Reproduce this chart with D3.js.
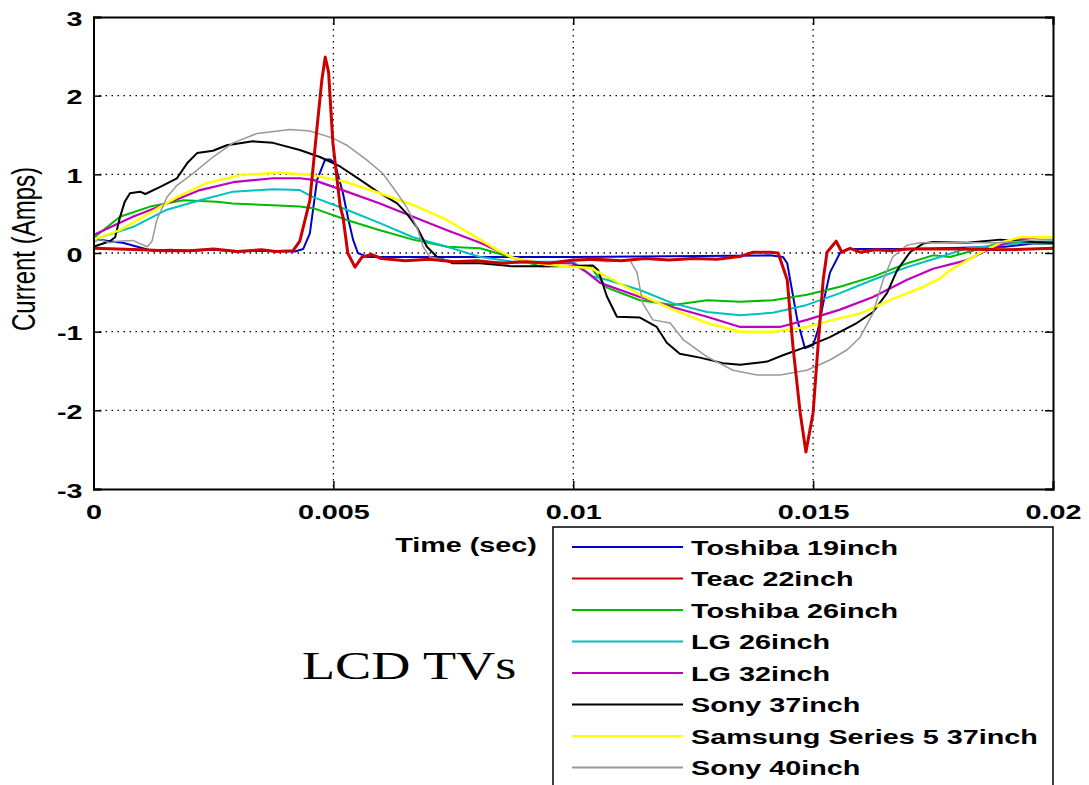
<!DOCTYPE html>
<html lang="en">
<head>
	<meta charset="UTF-8">
	<title>LCD TVs current</title>
	<script src="https://d3js.org/d3.v7.min.js"></script>
	<style>
		body { margin: 0; background: #fff; }
		text { font-family: "Liberation Sans", Arial, sans-serif; }
	</style>
</head>
<body>
<script>
	//----data: [time (sec), current (Amps)]----
	var toshiba19 = [[0,0.18],[0.00034,0.15],[0.00061,0.13],[0.00097,0.07],[0.00122,0.03],[0.0016,0.04],[0.002,0.03],[0.0025,0.04],[0.003,0.02],[0.0035,0.03],[0.0042,0.02],[0.00437,0.05],[0.00451,0.25],[0.00466,0.93],[0.00483,1.19],[0.00493,1.19],[0.00503,1.14],[0.0052,0.76],[0.0053,0.46],[0.00541,0.17],[0.00551,0.0],[0.0057,-0.05],[0.008,-0.05],[0.01,-0.05],[0.012,-0.04],[0.0141,-0.03],[0.01437,-0.05],[0.01446,-0.13],[0.01467,-0.85],[0.01483,-1.21],[0.015,-1.17],[0.0151,-0.98],[0.01521,-0.64],[0.01535,-0.25],[0.01556,0.0],[0.01571,0.05],[0.017,0.05],[0.019,0.08],[0.01958,0.12],[0.02,0.12]];
	var teac22 = [[0,0.06],[0.0005,0.05],[0.001,0.04],[0.0015,0.03],[0.002,0.03],[0.0025,0.05],[0.003,0.02],[0.0035,0.04],[0.0038,0.02],[0.00416,0.03],[0.0043,0.15],[0.00451,0.67],[0.00466,1.6],[0.00476,2.2],[0.00483,2.49],[0.0049,2.3],[0.00499,1.4],[0.00514,0.6],[0.0052,0.46],[0.0053,0.0],[0.00545,-0.18],[0.0056,-0.05],[0.0058,-0.02],[0.006,-0.07],[0.0065,-0.1],[0.007,-0.08],[0.0075,-0.11],[0.008,-0.1],[0.0085,-0.13],[0.009,-0.11],[0.0095,-0.13],[0.01,-0.09],[0.0105,-0.08],[0.011,-0.1],[0.0115,-0.07],[0.012,-0.09],[0.0125,-0.07],[0.013,-0.08],[0.0135,-0.04],[0.01375,0.01],[0.0141,0.01],[0.01427,0.0],[0.01446,-0.34],[0.01458,-1.19],[0.01473,-2.03],[0.01485,-2.53],[0.015,-2.03],[0.0151,-1.2],[0.01521,-0.34],[0.01529,0.01],[0.01548,0.15],[0.0156,0.01],[0.01577,0.06],[0.01598,0.01],[0.0163,0.04],[0.0166,0.03],[0.017,0.05],[0.018,0.05],[0.019,0.04],[0.02,0.06]];
	var toshiba26 = [[0,0.19],[0.00055,0.46],[0.00118,0.59],[0.00187,0.67],[0.00257,0.65],[0.0029,0.63],[0.00362,0.61],[0.0043,0.59],[0.00458,0.57],[0.00528,0.42],[0.00597,0.29],[0.00666,0.17],[0.00737,0.08],[0.00806,0.06],[0.00874,-0.06],[0.00931,-0.17],[0.01035,-0.17],[0.0107,-0.44],[0.01139,-0.6],[0.01208,-0.66],[0.01279,-0.6],[0.01348,-0.62],[0.01416,-0.6],[0.01487,-0.53],[0.01556,-0.43],[0.01625,-0.3],[0.01696,-0.13],[0.0175,-0.03],[0.01785,-0.05],[0.01821,0.01],[0.0189,0.13],[0.02,0.12]];
	var lg26 = [[0,0.17],[0.00082,0.33],[0.00153,0.55],[0.00222,0.67],[0.00291,0.78],[0.00374,0.81],[0.0043,0.8],[0.00458,0.71],[0.00528,0.55],[0.00597,0.38],[0.00666,0.2],[0.00737,0.08],[0.00806,-0.05],[0.00874,-0.11],[0.00999,-0.11],[0.01041,-0.3],[0.0107,-0.34],[0.01139,-0.47],[0.01208,-0.64],[0.01279,-0.75],[0.01348,-0.79],[0.01416,-0.76],[0.01487,-0.66],[0.01556,-0.51],[0.01625,-0.34],[0.01696,-0.18],[0.01765,-0.05],[0.01821,0.06],[0.01958,0.14],[0.02,0.15]];
	var lg32 = [[0,0.23],[0.00082,0.46],[0.00153,0.63],[0.00222,0.8],[0.00291,0.9],[0.00374,0.95],[0.0043,0.95],[0.00458,0.93],[0.00528,0.78],[0.00597,0.63],[0.00666,0.46],[0.00737,0.29],[0.00806,0.13],[0.00874,-0.06],[0.00931,-0.13],[0.00999,-0.13],[0.01029,-0.25],[0.01056,-0.38],[0.01139,-0.56],[0.01208,-0.69],[0.01279,-0.81],[0.01348,-0.94],[0.01431,-0.94],[0.01487,-0.85],[0.01556,-0.72],[0.01625,-0.56],[0.01696,-0.34],[0.0175,-0.2],[0.01821,-0.09],[0.01854,0.01],[0.0189,0.1],[0.01925,0.17],[0.01973,0.2],[0.02,0.2]];
	var sony37 = [[0,0.08],[0.00034,0.15],[0.00045,0.2],[0.00055,0.45],[0.00065,0.65],[0.00076,0.76],[0.00097,0.78],[0.00108,0.75],[0.00139,0.84],[0.00174,0.95],[0.00195,1.14],[0.00216,1.27],[0.00249,1.3],[0.00278,1.37],[0.00332,1.42],[0.00374,1.4],[0.0043,1.31],[0.00472,1.22],[0.00514,1.1],[0.00556,0.93],[0.00597,0.76],[0.00633,0.63],[0.00653,0.5],[0.00674,0.33],[0.00695,0.08],[0.00716,-0.05],[0.00749,-0.13],[0.00806,-0.13],[0.00874,-0.17],[0.00945,-0.17],[0.01041,-0.16],[0.01052,-0.22],[0.0107,-0.55],[0.01091,-0.81],[0.01139,-0.82],[0.01174,-0.94],[0.01195,-1.14],[0.01222,-1.28],[0.01264,-1.33],[0.01312,-1.4],[0.01348,-1.42],[0.01404,-1.38],[0.01437,-1.3],[0.01487,-1.19],[0.01535,-1.07],[0.01591,-0.89],[0.01625,-0.75],[0.01654,-0.51],[0.01675,-0.22],[0.01702,0.01],[0.01729,0.12],[0.0175,0.14],[0.01821,0.13],[0.0189,0.17],[0.01958,0.14],[0.02,0.13]];
	var samsung37 = [[0,0.17],[0.00055,0.29],[0.00118,0.51],[0.00174,0.71],[0.00237,0.89],[0.00305,0.99],[0.00389,1.02],[0.00458,0.99],[0.00528,0.9],[0.00597,0.76],[0.00666,0.61],[0.00737,0.42],[0.00806,0.17],[0.00841,0.04],[0.00874,-0.06],[0.00945,-0.15],[0.01035,-0.19],[0.01083,-0.34],[0.01139,-0.53],[0.01208,-0.72],[0.01279,-0.89],[0.01348,-1.0],[0.01416,-1.0],[0.01487,-0.94],[0.01542,-0.85],[0.01598,-0.77],[0.0166,-0.6],[0.01729,-0.43],[0.01765,-0.32],[0.01785,-0.22],[0.01848,0.0],[0.0189,0.13],[0.01931,0.2],[0.02,0.2]];
	var sony40 = [[0,0.14],[0.00014,0.17],[0.00034,0.13],[0.0005,0.15],[0.00082,0.16],[0.00112,0.08],[0.00122,0.15],[0.00132,0.42],[0.00153,0.71],[0.00174,0.86],[0.00207,1.01],[0.00249,1.22],[0.00291,1.4],[0.00341,1.52],[0.0041,1.57],[0.00451,1.55],[0.00499,1.46],[0.00528,1.37],[0.0057,1.18],[0.00603,1.01],[0.00633,0.76],[0.00653,0.58],[0.00674,0.33],[0.00687,0.08],[0.00701,-0.05],[0.00749,-0.1],[0.00874,-0.12],[0.00931,-0.13],[0.01035,-0.09],[0.0107,-0.11],[0.01118,-0.09],[0.01133,-0.25],[0.01145,-0.64],[0.01166,-0.85],[0.01202,-0.89],[0.01229,-1.1],[0.01279,-1.32],[0.01333,-1.49],[0.01383,-1.55],[0.01431,-1.55],[0.01487,-1.49],[0.01535,-1.36],[0.01571,-1.23],[0.01598,-1.07],[0.01625,-0.76],[0.01646,-0.34],[0.01666,-0.05],[0.01696,0.1],[0.01723,0.13],[0.0189,0.13],[0.01973,0.17],[0.02,0.17]];

	var seriesNames = ['Toshiba 19inch', 'Teac 22inch', 'Toshiba 26inch', 'LG 26inch', 'LG 32inch', 'Sony 37inch', 'Samsung Series 5 37inch', 'Sony 40inch'];
	var seriesData = [toshiba19, teac22, toshiba26, lg26, lg32, sony37, samsung37, sony40];
	var seriesColors = ['#0000cc', '#cc0000', '#00bb00', '#00c0c0', '#c000c0', '#000000', '#ffff00', '#999999'];
	var seriesWidths = [2, 3, 2, 2, 2.2, 2, 2.5, 1.5];

	var xTicks = [0, 0.005, 0.01, 0.015, 0.02];
	var xTickLabels = ['0', '0.005', '0.01', '0.015', '0.02'];
	var yTicks = [-3, -2, -1, 0, 1, 2, 3];
	var yTickLabels = ['-3', '-2', '-1', '0', '1', '2', '3'];

	var SX = 1.37; // the picture is stretched sideways

	var margin = {top: 17, left: 93.5, right: 36, bottom: 296};
	var W = 1089, H = 785;
	var width = W - margin.left - margin.right,
		height = H - margin.top - margin.bottom;

	var root = d3.select('body').append('svg')
		.attr('width', W)
		.attr('height', H);

	var svg = root.append('g')
		.attr('transform', 'translate(' + margin.left + ',' + margin.top + ')');

	var x = d3.scaleLinear().domain([0, 0.02]).range([0, width]);
	var y = d3.scaleLinear().domain([-3, 3]).range([height, 0]);

	//----grid----
	svg.append('g').selectAll('line.gx')
		.data(xTicks.slice(1, -1)).enter().append('line')
		.attr('x1', function (d) { return x(d); })
		.attr('x2', function (d) { return x(d); })
		.attr('y1', 0).attr('y2', height)
		.attr('stroke', '#000').attr('stroke-width', 1.3)
		.attr('stroke-dasharray', '1.5,4.5');
	svg.append('g').selectAll('line.gy')
		.data(yTicks.slice(1, -1)).enter().append('line')
		.attr('y1', function (d) { return y(d); })
		.attr('y2', function (d) { return y(d); })
		.attr('x1', 0).attr('x2', width)
		.attr('stroke', '#000').attr('stroke-width', 1.3)
		.attr('stroke-dasharray', '1.5,4.5');

	//----lines----
	var line = d3.line()
		.x(function (d) { return x(d[0]); })
		.y(function (d) { return y(d[1]); });

	var order = [0, 2, 3, 4, 5, 6, 7, 1];
	order.forEach(function (i) {
		svg.append('path')
			.datum(seriesData[i])
			.attr('fill', 'none')
			.attr('stroke', seriesColors[i])
			.attr('stroke-width', seriesWidths[i])
			.attr('stroke-linejoin', 'round')
			.attr('d', line);
	});

	//----axes----
	var xAxis = svg.append('g')
		.attr('transform', 'translate(0,' + height + ')')
		.call(d3.axisBottom(x).tickValues(xTicks).tickSize(-8).tickPadding(0)
			.tickFormat(function (d, i) { return xTickLabels[i]; }));
	xAxis.selectAll('text')
		.attr('y', 0).attr('dy', null)
		.attr('transform', 'translate(0,30) scale(' + SX + ',1)');

	var yAxis = svg.append('g')
		.call(d3.axisLeft(y).tickValues(yTicks).tickSize(-8).tickPadding(0)
			.tickFormat(function (d, i) { return yTickLabels[i]; }));
	yAxis.selectAll('text')
		.attr('x', 0).attr('dy', null).attr('y', 0)
		.attr('transform', 'translate(-11,8) scale(' + SX + ',1)');

	svg.append('g').call(d3.axisTop(x).tickValues(xTicks).tickSize(-8).tickFormat(''));
	svg.append('g').attr('transform', 'translate(' + width + ',0)')
		.call(d3.axisRight(y).tickValues(yTicks).tickSize(-8).tickFormat(''));

	svg.selectAll('.domain').attr('stroke-width', 2).attr('stroke', '#000');
	svg.selectAll('.tick line').attr('stroke-width', 1.5).attr('stroke', '#000');
	svg.selectAll('.tick text')
		.attr('font-size', 21).attr('font-weight', 'bold').attr('fill', '#000');

	//----labels----
	root.append('text')
		.attr('transform', 'translate(35,249) scale(1.35,1) rotate(-90)')
		.attr('text-anchor', 'middle')
		.attr('font-size', 24)
		.text('Current (Amps)');

	root.append('text')
		.attr('transform', 'translate(466,552) scale(' + SX + ',1)')
		.attr('text-anchor', 'middle')
		.attr('font-size', 21)
		.attr('font-weight', 'bold')
		.text('Time (sec)');

	root.append('text')
		.attr('transform', 'translate(302,679) scale(1.39,1)')
		.style('font-family', '"Liberation Serif", "Times New Roman", serif')
		.attr('font-size', 39)
		.text('LCD TVs');

	//----legend----
	var legend = root.append('g').attr('transform', 'translate(553,527)');
	legend.append('rect')
		.attr('width', 500).attr('height', 300)
		.attr('fill', '#fff').attr('stroke', '#000').attr('stroke-width', 1.5);

	var rows = legend.selectAll('g.row')
		.data(seriesNames).enter().append('g')
		.attr('transform', function (d, i) { return 'translate(0,' + (20 + i * 31.5) + ')'; });
	rows.append('line')
		.attr('x1', 19).attr('x2', 130)
		.attr('stroke', function (d, i) { return seriesColors[i]; })
		.attr('stroke-width', 2);
	rows.append('text')
		.attr('transform', 'translate(138,7.5) scale(' + SX + ',1)')
		.attr('font-size', 21)
		.attr('font-weight', 'bold')
		.text(function (d) { return d; });
</script>
</body>
</html>
